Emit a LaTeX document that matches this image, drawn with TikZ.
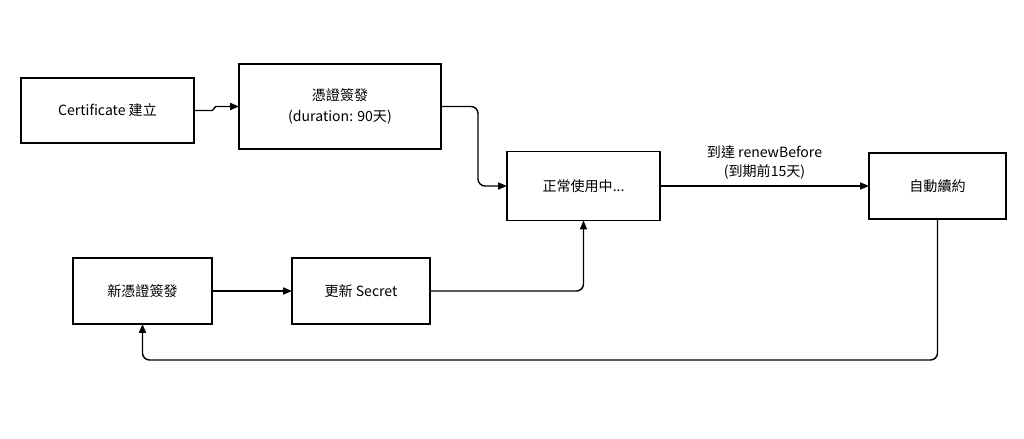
\documentclass[tikz,border=0pt]{standalone}
\usepackage{fontspec}
\setmainfont{Noto Sans CJK TC}
\usetikzlibrary{arrows.meta}
\tikzstyle{stepbox}=[draw, thick, inner sep=0, outer sep=0, align=center, font=\fontsize{8}{12}\selectfont]
\tikzstyle{flow}=[thick, rounded corners=4pt, -{Triangle[length=5pt,width=4pt]}]
\begin{document}
\begin{tikzpicture}[x=0.02cm, y=-0.02cm]
        \useasboundingbox (0, 0) rectangle (1024, 439);
        \node[stepbox, minimum width=173*0.02cm, minimum height=65*0.02cm] (create) at (107.5, 110.5) {Certificate 建立};
        \node[stepbox, minimum width=202*0.02cm, minimum height=85*0.02cm] (issue) at (340, 106.5) {憑證簽發\\(duration: 90天)};
        \node[stepbox, minimum width=153*0.02cm, minimum height=69*0.02cm] (inuse) at (583.5, 186) {正常使用中...};
        \node[stepbox, minimum width=137*0.02cm, minimum height=66*0.02cm] (renew) at (937.5, 186) {自動續約};
        \node[stepbox, minimum width=139*0.02cm, minimum height=66*0.02cm] (reissue) at (142.5, 291) {新憑證簽發};
        \node[stepbox, minimum width=138*0.02cm, minimum height=66*0.02cm] (secret) at (361, 291) {更新 Secret};
        \coordinate (back) at (937.5, 360);
        \draw[flow, rounded corners=1pt] (create.east) -- ++(20, 0) |- (issue.west);
        \draw[flow] (issue.east) -- ++(37, 0) |- (inuse.west);
        \draw[flow] (inuse.east) -- node[above, align=center, font=\fontsize{8}{11}\selectfont] {到達 renewBefore\\(到期前15天)} (renew.west);
        \draw[flow] (renew.south) -- (back) -| (reissue.south);
        \draw[flow] (reissue.east) -- (secret.west);
        \draw[flow] (secret.east) -| (inuse.south);
\end{tikzpicture}
\end{document}
